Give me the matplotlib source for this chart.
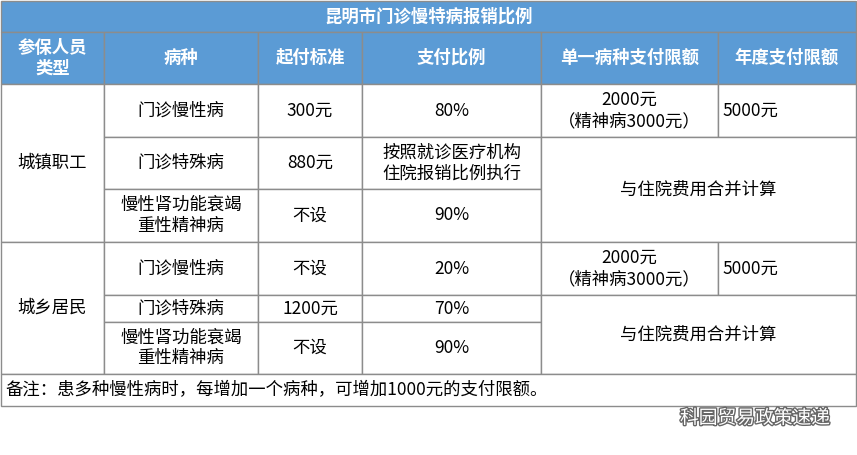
import matplotlib
matplotlib.use("Agg")
import matplotlib.pyplot as plt
import matplotlib.patheffects as pe
from matplotlib.patches import Rectangle

plt.rcParams["font.family"] = ["Noto Sans CJK SC", "DejaVu Sans"]

title = "昆明市门诊慢特病报销比例"
headers = ["参保人员\n类型", "病种", "起付标准", "支付比例", "单一病种支付限额", "年度支付限额"]
groups = ["城镇职工", "城乡居民"]
diseases = ["门诊慢性病", "门诊特殊病", "慢性肾功能衰竭\n重性精神病"]
deductible_staff = ["300元", "880元", "不设"]
ratio_staff = ["80%", "按照就诊医疗机构\n住院报销比例执行", "90%"]
deductible_res = ["不设", "1200元", "不设"]
ratio_res = ["20%", "70%", "90%"]
single_limit = "2000元\n（精神病3000元）"
annual_limit = "5000元"
merged_text = "与住院费用合并计算"
note = "备注：患多种慢性病时，每增加一个病种，可增加1000元的支付限额。"
watermark = "科园贸易政策速递"

W, H = 857, 455
fig = plt.figure(figsize=(W / 100, H / 100), dpi=100)
ax = fig.add_axes([0, 0, 1, 1])
ax.set_xlim(0, W); ax.set_ylim(H, 0); ax.axis("off")

xs = [1, 104, 258, 362, 541, 718, 856]
ys = [1, 32, 84, 137, 189, 242, 295, 322, 374, 406]
BLUE = "#5B9BD5"; GRID = "#8C8C8C"

def cell(c0, c1, r0, r1, text, fill="white", color="#000000", bold=False, ha="center", fs=12.5):
    x0, x1, y0, y1 = xs[c0], xs[c1], ys[r0], ys[r1]
    ax.add_patch(Rectangle((x0, y0), x1 - x0, y1 - y0, facecolor=fill, edgecolor=GRID, lw=1))
    tx = (x0 + x1) / 2 if ha == "center" else x0 + 4
    ax.text(tx, (y0 + y1) / 2, text, ha=ha, va="center", fontsize=fs, color=color,
            fontweight="bold" if bold else "normal", linespacing=1.2)

cell(0, 6, 0, 1, title, fill=BLUE, color="white", bold=True)
for i, h in enumerate(headers):
    cell(i, i + 1, 1, 2, h, fill=BLUE, color="white", bold=True)

for g, (grp, ded, rat) in enumerate([(groups[0], deductible_staff, ratio_staff),
                                      (groups[1], deductible_res, ratio_res)]):
    r = 2 + 3 * g
    cell(0, 1, r, r + 3, grp)
    for k in range(3):
        cell(1, 2, r + k, r + k + 1, diseases[k])
        cell(2, 3, r + k, r + k + 1, ded[k])
        cell(3, 4, r + k, r + k + 1, rat[k])
    cell(4, 5, r, r + 1, single_limit)
    cell(5, 6, r, r + 1, annual_limit, ha="left")
    cell(4, 6, r + 1, r + 3, merged_text)

cell(0, 6, 8, 9, note, ha="left")

ax.text(830, 418, watermark, ha="right", va="center", fontsize=13.5, color="white",
        path_effects=[pe.withStroke(linewidth=2, foreground="#666666")])

fig.savefig("out.png", dpi=100)
